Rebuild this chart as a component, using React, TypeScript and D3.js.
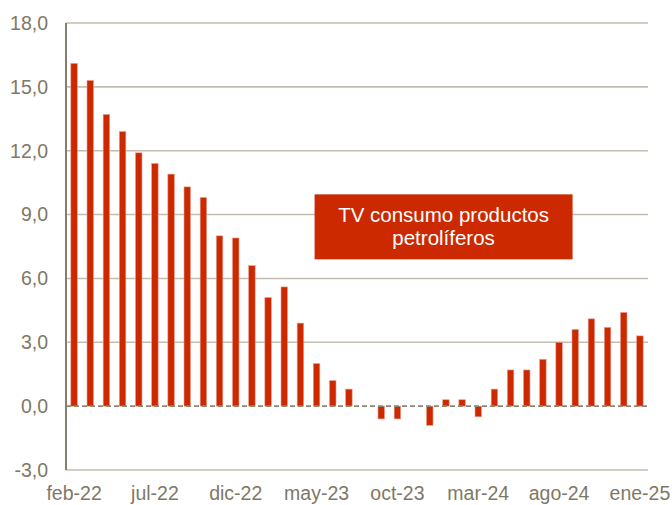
import React, { useRef, useEffect } from 'react';
import * as d3 from 'd3';

const months = [
  'feb-22', 'mar-22', 'abr-22', 'may-22', 'jun-22', 'jul-22', 'ago-22', 'sep-22', 'oct-22', 'nov-22', 'dic-22', 'ene-23',
  'feb-23', 'mar-23', 'abr-23', 'may-23', 'jun-23', 'jul-23', 'ago-23', 'sep-23', 'oct-23', 'nov-23', 'dic-23', 'ene-24',
  'feb-24', 'mar-24', 'abr-24', 'may-24', 'jun-24', 'jul-24', 'ago-24', 'sep-24', 'oct-24', 'nov-24', 'dic-24', 'ene-25',
];
const consumo = [
  16.1, 15.3, 13.7, 12.9, 11.9, 11.4, 10.9, 10.3, 9.8, 8.0, 7.9, 6.6,
  5.1, 5.6, 3.9, 2.0, 1.2, 0.8, 0.0, -0.6, -0.6, 0.0, -0.9, 0.3,
  0.3, -0.5, 0.8, 1.7, 1.7, 2.2, 3.0, 3.6, 4.1, 3.7, 4.4, 3.3,
];
const yTicks = [-3, 0, 3, 6, 9, 12, 15, 18];
const xLabels = ['feb-22', 'jul-22', 'dic-22', 'may-23', 'oct-23', 'mar-24', 'ago-24', 'ene-25'];
const boxLines = ['TV consumo productos', 'petrolíferos'];

const RED = '#cc2900';
const TEXT = '#7f7866';
const FONT = 'Liberation Sans, Arial, sans-serif';

const App: React.FC = () => {
  const svgRef = useRef<SVGSVGElement>(null);

  useEffect(() => {
    const svg = d3.select(svgRef.current);
    svg.selectAll('*').remove();

    const margin = { top: 23, right: 24, bottom: 35, left: 66 };
    const width = 672 - margin.left - margin.right;
    const height = 505 - margin.top - margin.bottom;

    const g = svg.append('g').attr('transform', `translate(${margin.left},${margin.top})`);

    const x = d3.scaleBand<string>().domain(months).range([0, width]).paddingInner(0.6).paddingOuter(0.3);
    const y = d3.scaleLinear().domain([-3, 18]).range([height, 0]);

    // grid lines
    g.selectAll('.grid')
      .data(yTicks.filter(t => t !== 0))
      .enter().append('line')
      .attr('x1', 0)
      .attr('x2', width)
      .attr('y1', d => y(d))
      .attr('y2', d => y(d))
      .attr('stroke', '#c3beb0')
      .attr('stroke-width', 1.6);

    // y tick labels
    g.selectAll('.ylab')
      .data(yTicks)
      .enter().append('text')
      .attr('x', -18)
      .attr('y', d => y(d))
      .attr('dy', '0.35em')
      .attr('text-anchor', 'end')
      .style('font-family', FONT)
      .style('font-size', '19.5px')
      .style('fill', TEXT)
      .text(d => d.toFixed(1).replace('.', ','));

    // bars
    g.selectAll('.bar')
      .data(consumo)
      .enter().append('rect')
      .attr('x', (d, i) => x(months[i])!)
      .attr('width', x.bandwidth())
      .attr('y', d => y(Math.max(0, d)))
      .attr('height', d => Math.abs(y(d) - y(0)))
      .attr('fill', RED)
      .attr('stroke', '#e89a86')
      .attr('stroke-width', 0.6);

    // zero line (dashed)
    g.append('line')
      .attr('x1', 0)
      .attr('x2', width)
      .attr('y1', y(0))
      .attr('y2', y(0))
      .attr('stroke', '#8c8676')
      .attr('stroke-width', 1.6)
      .attr('stroke-dasharray', '5,3');

    // left axis
    g.append('line')
      .attr('x1', 0)
      .attr('x2', 0)
      .attr('y1', 0)
      .attr('y2', height)
      .attr('stroke', '#857f6e')
      .attr('stroke-width', 2);

    // x labels
    g.selectAll('.xlab')
      .data(xLabels)
      .enter().append('text')
      .attr('x', d => x(d)! + x.bandwidth() / 2)
      .attr('y', height + 30)
      .attr('text-anchor', 'middle')
      .style('font-family', FONT)
      .style('font-size', '19.5px')
      .style('fill', TEXT)
      .text(d => d);

    // annotation box
    const boxX = x('may-23')! + x.bandwidth() / 2 - 2;
    const box = g.append('g').attr('transform', `translate(${boxX},${y(9.95)})`);
    box.append('rect')
      .attr('width', 258)
      .attr('height', 65)
      .attr('fill', RED);
    box.selectAll('text')
      .data(boxLines)
      .enter().append('text')
      .attr('x', 129)
      .attr('y', (d, i) => 28 + i * 23)
      .attr('text-anchor', 'middle')
      .style('font-family', FONT)
      .style('font-size', '20.5px')
      .style('fill', '#ffffff')
      .text(d => d);
  }, []);

  return <svg ref={svgRef} width="672" height="505" style={{ position: 'absolute', left: 0, top: 0 }}></svg>;
};

export default App;
